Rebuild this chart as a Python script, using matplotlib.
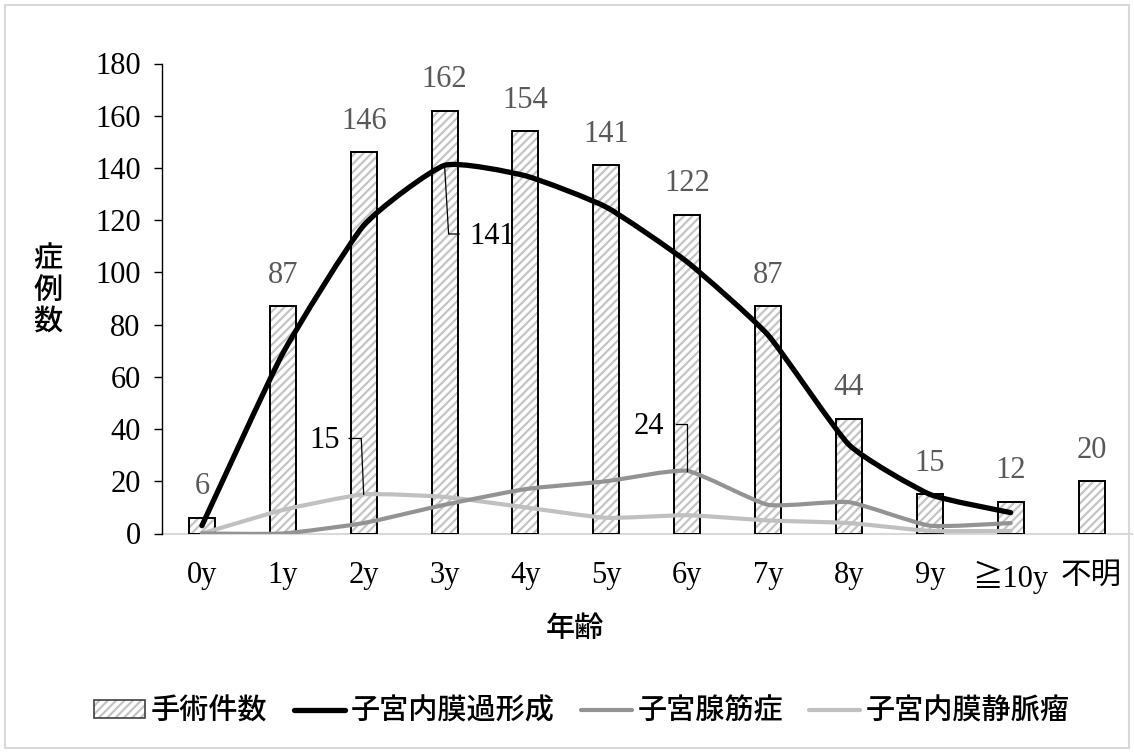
import matplotlib
matplotlib.use("Agg")
import matplotlib.pyplot as plt
from matplotlib.path import Path
from matplotlib.patches import PathPatch, Patch, Rectangle
from matplotlib.lines import Line2D
import numpy as np

# ---- data -------------------------------------------------------------
categories = ["0y", "1y", "2y", "3y", "4y", "5y", "6y", "7y", "8y", "9y", "≧10y", "不明"]
surgeries = [6, 87, 146, 162, 154, 141, 122, 87, 44, 15, 12, 20]
hyperplasia = [3, 69, 118, 141, 137, 125, 104, 76, 34, 15, 8]
adenomyosis = [0, 0, 4, 11, 17, 20, 24, 11, 12, 3, 4]
varix = [0, 9, 15, 14, 10, 6, 7, 5, 4, 1, 1]

series_names = ["手術件数", "子宮内膜過形成", "子宮腺筋症", "子宮内膜静脈瘤"]
y_ticks = [0, 20, 40, 60, 80, 100, 120, 140, 160, 180]

# ---- styling ----------------------------------------------------------
W, H = 1134, 753
SERIF = ["Liberation Serif", "Noto Sans CJK JP"]
SANS = ["Noto Sans CJK JP", "DejaVu Sans"]
plt.rcParams["hatch.linewidth"] = 1.6

c_black = "#000000"
c_mid = "#939393"
c_light = "#c0c0c0"
c_hatch = "#c4c4c4"
c_label = "#595959"
NUM_SIZE = 22

fig = plt.figure(figsize=(W / 100, H / 100), dpi=100)
fig.patch.set_facecolor("white")

# chart-area border
fig.add_artist(Rectangle((5 / W, 5 / H), 1124 / W, 743 / H, transform=fig.transFigure,
                         fill=False, edgecolor="#d9d9d9", linewidth=1.5))


def px(x0, y0, x1, y1):
    return [x0 / W, 1 - y1 / H, (x1 - x0) / W, (y1 - y0) / H]


ax = fig.add_axes(px(161.5, 63.5, 1132, 533.5))
x = np.arange(len(categories))

# bars: gray hatch fill, then black outline
bar_w = 0.32
ax.bar(x, surgeries, width=bar_w, color="white", edgecolor=c_hatch, hatch="////",
       linewidth=0, zorder=2)
ax.bar(x, surgeries, width=bar_w, fill=False, edgecolor="black", linewidth=1.4, zorder=3)

for xi, v in zip(x, surgeries):
    ax.annotate(str(v), (xi, v), xytext=(0, 12), textcoords="offset points",
                ha="center", va="bottom", fontsize=NUM_SIZE, color=c_label, family=SERIF)


def smooth_path(xs, ys, k=1 / 12):
    """Bezier curve through every point with gentle tangents."""
    pts = np.column_stack([xs, ys]).astype(float)
    n = len(pts)
    verts = [pts[0]]
    codes = [Path.MOVETO]
    for i in range(n - 1):
        p0 = pts[i - 1] if i > 0 else pts[i]
        p1 = pts[i]
        p2 = pts[i + 1]
        p3 = pts[i + 2] if i + 2 < n else pts[i + 1]
        c1 = p1 + (p2 - p0) * k
        c2 = p2 - (p3 - p1) * k
        verts += [c1, c2, p2]
        codes += [Path.CURVE4] * 3
    return Path(verts, codes)


lines = [(hyperplasia, c_black, 3.8, 6), (adenomyosis, c_mid, 3.0, 5), (varix, c_light, 3.0, 4)]
for vals, col, lw, z in lines:
    xs = np.arange(len(vals))
    ax.add_patch(PathPatch(smooth_path(xs, vals), fill=False, edgecolor=col, linewidth=lw,
                           capstyle="round", joinstyle="round", zorder=z))

# value callouts with leader lines
callouts = [
    # (series, index, text x, text y, ha, leader path x's, leader path y's)
    (hyperplasia, 3, 3.31, 113.6, "left", [3.0, 3.05, 3.18], [None, 114.7, 114.7]),
    (varix, 2, 1.70, 35.6, "right", [2.0, 1.97, 1.82], [None, 36.4, 36.4]),
    (adenomyosis, 6, 5.72, 41.0, "right", [6.0, 6.0, 5.86], [None, 42.0, 42.0]),
]
for vals, idx, tx, ty, ha, lxs, lys in callouts:
    lys = [vals[idx]] + lys[1:]
    ax.plot(lxs, lys, color="black", linewidth=0.9, zorder=7, solid_joinstyle="miter")
    ax.text(tx, ty, str(vals[idx]), ha=ha, va="center", fontsize=NUM_SIZE, color="black",
            family=SERIF, zorder=8)

# axes
ax.set_xlim(-0.5, len(categories) - 0.5)
ax.set_ylim(0, 180)
ax.set_yticks(y_ticks)
ax.set_xticks(x)
ax.set_xticklabels(categories)
for lab in ax.get_xticklabels() + ax.get_yticklabels():
    lab.set_family(SERIF)
    lab.set_fontsize(NUM_SIZE)
    lab.set_color("black")
ax.tick_params(axis="x", length=0, pad=20)
ax.tick_params(axis="y", length=6, width=1, pad=9, direction="out")
for s in ("top", "right"):
    ax.spines[s].set_visible(False)
ax.spines["left"].set_color("black")
ax.spines["left"].set_linewidth(1.0)
ax.spines["bottom"].set_color("#d9d9d9")
ax.spines["bottom"].set_linewidth(1.5)
ax.spines["bottom"].set_zorder(1)

fig.text(575 / W, 1 - 628 / H, "年齢", ha="center", va="center", fontsize=21,
         family=SANS, weight="medium")
fig.text(48 / W, 1 - 290 / H, "症\n例\n数", ha="center", va="center", fontsize=21,
         family=SANS, weight="medium", linespacing=1.0)

# legend
h_bar = (Patch(facecolor="white", edgecolor=c_hatch, hatch="////", linewidth=0),
         Patch(fill=False, edgecolor="#404040", linewidth=1.2))
handles = [h_bar,
           Line2D([], [], color=c_black, linewidth=3.8, solid_capstyle="round"),
           Line2D([], [], color=c_mid, linewidth=3.0, solid_capstyle="round"),
           Line2D([], [], color=c_light, linewidth=3.0, solid_capstyle="round")]
fig.legend(handles, series_names, loc="center", bbox_to_anchor=(582 / W, 1 - 711 / H),
           ncol=4, frameon=False, prop={"family": SANS, "size": 21, "weight": "medium"},
           handlelength=1.75, handletextpad=0.2, columnspacing=0.9, handleheight=0.55)

fig.savefig("out.png", dpi=100, facecolor="white")
